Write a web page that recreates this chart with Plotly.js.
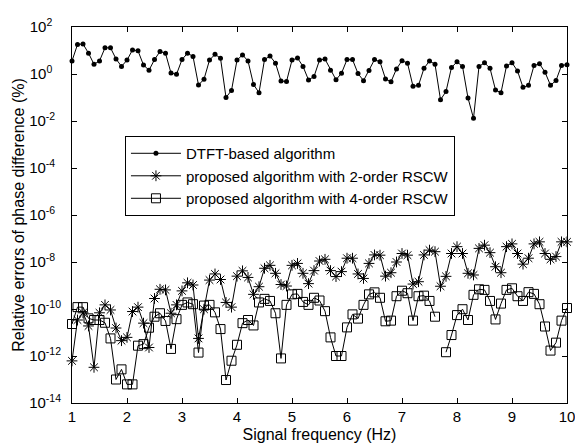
<!DOCTYPE html>
<html>
<head>
<meta charset="utf-8">
<script src="https://cdn.plot.ly/plotly-3.0.1.min.js"></script>
<style>html,body{margin:0;padding:0;background:#fff;}#chart{width:575px;height:443px;}</style>
</head>
<body>
<div id="chart"></div>
<script>
// Signal frequency (Hz)
const freq = [1.0,1.1,1.2,1.3,1.4,1.5,1.6,1.7,1.8,1.9,
  2.0,2.1,2.2,2.3,2.4,2.5,2.6,2.7,2.8,2.9,
  3.0,3.1,3.2,3.3,3.4,3.5,3.6,3.7,3.8,3.9,
  4.0,4.1,4.2,4.3,4.4,4.5,4.6,4.7,4.8,4.9,
  5.0,5.1,5.2,5.3,5.4,5.5,5.6,5.7,5.8,5.9,
  6.0,6.1,6.2,6.3,6.4,6.5,6.6,6.7,6.8,6.9,
  7.0,7.1,7.2,7.3,7.4,7.5,7.6,7.7,7.8,7.9,
  8.0,8.1,8.2,8.3,8.4,8.5,8.6,8.7,8.8,8.9,
  9.0,9.1,9.2,9.3,9.4,9.5,9.6,9.7,9.8,9.9,10.0];

// DTFT-based algorithm
const dtft = [3.6,18,19,7.7,2.6,3.6,13,13,4.4,2.1,
  3.9,10.6,9.7,2.4,1.45,4.1,9.1,7.6,1.1,0.97,
  4.1,7.7,5.6,0.34,0.6,3.9,6.9,4.7,0.10,0.2,
  3.9,6.5,3.6,0.36,0.16,4.1,5.8,2.9,0.5,0.48,
  3.9,4.8,2.1,0.56,0.78,3.9,4.3,1.45,0.57,1.08,
  4.1,4.1,1.05,0.52,1.4,4.1,3.3,0.62,0.47,1.65,
  3.7,2.9,0.30,0.33,1.75,3.6,2.6,0.08,0.18,1.9,
  3.3,2.1,0.095,0.013,2.1,3.0,1.75,0.21,0.16,2.2,
  3.0,1.35,0.27,0.33,2.3,2.7,1.2,0.33,0.53,2.3,2.5];

// proposed algorithm with 2-order RSCW
const rscw2 = [6.2e-13,3.4e-11,6.9e-11,1.9e-11,3.3e-13,6.9e-11,1.5e-10,9.1e-11,1.55e-11,4.5e-12,
  6.2e-12,7.8e-11,1.2e-10,2.5e-11,2.3e-12,2.8e-10,6.9e-10,6.5e-10,6.6e-11,1.5e-10,
  5.9e-10,1.3e-9,1.05e-9,5.6e-12,9.8e-11,1.7e-9,3.1e-9,1.8e-9,1.9e-10,1.2e-10,
  2.5e-9,4.2e-9,2.2e-9,4.2e-10,8.9e-10,5.4e-9,7.2e-9,3.3e-9,1.1e-9,9.5e-10,
  7.2e-9,8.7e-9,3.3e-9,1.2e-9,4.3e-9,1.1e-8,1.3e-8,4.3e-9,2.4e-9,3.9e-9,
  1.45e-8,1.45e-8,3.1e-9,2.0e-9,8.7e-9,2.0e-8,1.95e-8,2.5e-9,3.5e-9,1.0e-8,
  2.3e-8,1.95e-8,1.15e-9,1.45e-9,2.0e-8,3.2e-8,2.75e-8,9.3e-10,2.45e-9,2.3e-8,
  4.5e-8,2.3e-8,3.3e-9,2.8e-9,3.8e-8,5.2e-8,2.5e-8,6.3e-9,3.5e-9,4.5e-8,
  5.9e-8,2.3e-8,8.1e-9,1.45e-8,5.9e-8,7.2e-8,2.3e-8,1.3e-8,1.7e-8,7.2e-8,7.2e-8];

// proposed algorithm with 4-order RSCW (no value at 7.7 Hz)
const rscw4 = [2.3e-11,1.2e-10,1.2e-10,4.0e-11,3.4e-11,3.4e-11,2.6e-11,5.6e-12,1.0e-13,2.7e-13,
  6.2e-14,6.2e-14,2.75e-12,3.2e-12,1.6e-11,4.7e-11,6.6e-11,3.1e-11,2.0e-12,3.7e-11,
  1.5e-10,1.9e-10,1.6e-10,1.4e-12,1.4e-10,1.5e-10,7.2e-11,1.4e-11,9.5e-14,6.3e-13,
  3.0e-12,2.5e-11,3.4e-11,2.0e-11,1.9e-10,2.7e-10,2.2e-10,6.6e-11,7.9e-13,1.5e-10,
  4.2e-10,4.4e-10,2.0e-10,1.5e-10,3.0e-10,2.3e-10,8.1e-11,6.2e-12,1.0e-12,1.0e-12,
  1.65e-11,5.9e-11,3.9e-11,1.5e-10,4.2e-10,5.1e-10,3.0e-10,3.0e-11,3.2e-11,3.5e-10,
  6.0e-10,4.7e-10,3.2e-11,3.5e-10,3.7e-10,2.2e-10,4.7e-11,null,1.45e-12,7.8e-12,
  5.5e-11,9.8e-11,3.4e-11,4.0e-10,6.9e-10,6.5e-10,2.2e-10,3.6e-11,1.7e-10,6.5e-10,
  7.6e-10,3.5e-10,2.2e-10,5.2e-10,4.4e-10,1.6e-10,1.8e-11,1.7e-12,3.7e-12,3.2e-11,1.1e-10];

const seriesNames = ['DTFT-based algorithm','proposed algorithm with 2-order RSCW','proposed algorithm with 4-order RSCW'];
const xTicks = [1,2,3,4,5,6,7,8,9,10];
const yTickVals = [1e2,1e0,1e-2,1e-4,1e-6,1e-8,1e-10,1e-12,1e-14];
const yExp = ['2','0','-2','-4','-6','-8','-10','-12','-14'];
const yPad = ['\u00a0\u00a0\u00a0','\u00a0\u00a0\u00a0','\u00a0\u00a0','\u00a0\u00a0','\u00a0\u00a0','\u00a0\u00a0','','',''];
const yTickText = yExp.map((e,i) => '10<sup>' + e + yPad[i] + '</sup>');

const FONT = 'Liberation Sans, Arial, sans-serif';
const lineStyle = {color:'#000', width:1};

const traces = [
  {x:freq, y:dtft, name:seriesNames[0], type:'scatter', mode:'lines+markers', cliponaxis:false,
   line:lineStyle, marker:{symbol:'circle', size:5, color:'#000'}},
  {x:freq, y:rscw2, name:seriesNames[1], type:'scatter', mode:'lines+markers', cliponaxis:false,
   line:lineStyle, marker:{symbol:'asterisk-open', size:9, color:'#000', line:{color:'#000', width:1}}},
  {x:freq, y:rscw4, name:seriesNames[2], type:'scatter', mode:'lines+markers', cliponaxis:false, connectgaps:false,
   line:lineStyle, marker:{symbol:'square-open', size:9, color:'#000', line:{color:'#000', width:1}}}
];

const layout = {
  width:575, height:443,
  margin:{l:72, r:8, t:27, b:40},
  paper_bgcolor:'#fff', plot_bgcolor:'#fff',
  font:{family:FONT, size:15, color:'#000'},
  showlegend:true,
  legend:{x:0.107, y:0.71, xanchor:'left', yanchor:'top', bgcolor:'#fff', bordercolor:'#000', borderwidth:1,
    itemwidth:50, font:{family:FONT, size:15, color:'#000'}, tracegroupgap:0},
  xaxis:{range:[1,10], tickvals:xTicks, ticks:'inside', ticklen:5, tickcolor:'#000', ticklabeloverflow:'allow',
    showline:true, linecolor:'#000', linewidth:1, mirror:'ticks', showgrid:false, zeroline:false,
    tickfont:{family:FONT, size:15, color:'#000'},
    title:{text:'Signal frequency (Hz)', font:{family:FONT, size:16, color:'#000'}, standoff:4}},
  yaxis:{type:'log', range:[-14,2], tickvals:yTickVals, ticktext:yTickText, ticks:'inside', ticklen:5, tickcolor:'#000',
    ticklabelstandoff:7, ticklabeloverflow:'allow',
    showline:true, linecolor:'#000', linewidth:1, mirror:'ticks', showgrid:false, zeroline:false,
    tickfont:{family:FONT, size:15, color:'#000'},
    title:{text:'Relative errors of phase difference (%)', font:{family:FONT, size:16, color:'#000'}, standoff:0}}
};

Plotly.newPlot('chart', traces, layout, {staticPlot:true, displayModeBar:false});
</script>
</body>
</html>
